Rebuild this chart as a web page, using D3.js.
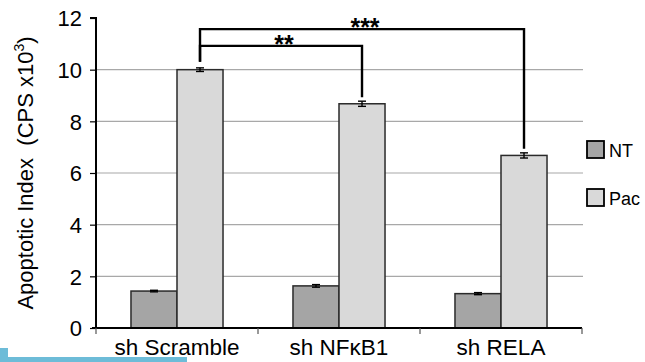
<!DOCTYPE html>
<html>
<head>
<meta charset="utf-8">
<script src="https://cdn.jsdelivr.net/npm/d3@7"></script>
<style>
  html, body { margin: 0; padding: 0; background: #fff; }
  svg { display: block; font-family: "Liberation Sans", Arial, sans-serif; }
</style>
</head>
<body>
<svg id="chart" width="645" height="362"></svg>
<script>
// Apoptotic index per shRNA construct, untreated (NT) vs paclitaxel (Pac)
const categories = ["sh Scramble", "sh NF\u03BAB1", "sh RELA"];
const seriesNames = ["NT", "Pac"];
const ntValues = [1.43, 1.63, 1.33];
const ntErrors = [0.03, 0.05, 0.04];
const pacValues = [10.0, 8.68, 6.68];
const pacErrors = [0.07, 0.1, 0.1];
const yTicks = [0, 2, 4, 6, 8, 10, 12];
const gridTicks = [2, 4, 6, 8, 10];
// significance brackets between Pac bars of two categories
const brackets = [
  { from: 0, to: 1, label: "**", level: 10.92 },
  { from: 0, to: 2, label: "***", level: 11.57 }
];

const svg = d3.select("#chart");
const margin = { left: 96, right: 63, top: 18, bottom: 34 };
const W = 645, H = 362;
const FONT = "Liberation Sans, Arial, sans-serif";

const x = d3.scaleBand().domain(categories).range([margin.left, W - margin.right]).paddingInner(0).paddingOuter(0);
const xs = d3.scaleBand().domain(seriesNames).range([0, x.bandwidth()]).paddingInner(0).paddingOuter(0.76);
const y = d3.scaleLinear().domain([0, 12]).range([H - margin.bottom, margin.top]);

const colors = { NT: "#a5a5a5", Pac: "#d9d9d9" };

// corner accent strip
svg.append("rect").attr("x", 0).attr("y", 357).attr("width", 187).attr("height", 5).attr("fill", "#6dbcd8");
svg.append("rect").attr("x", 0).attr("y", 348).attr("width", 8).attr("height", 14).attr("fill", "#6dbcd8");

// gridlines
svg.append("g").selectAll("line").data(gridTicks).join("line")
  .attr("x1", margin.left).attr("x2", W - margin.right + 1)
  .attr("y1", d => y(d)).attr("y2", d => y(d))
  .attr("stroke", "#a8a8a8").attr("stroke-width", 1.2);

// bars
const rows = categories.map((c, i) => [
  { cat: c, s: "NT", v: ntValues[i], e: ntErrors[i] },
  { cat: c, s: "Pac", v: pacValues[i], e: pacErrors[i] }
]).flat();

svg.append("g").selectAll("rect").data(rows).join("rect")
  .attr("x", d => x(d.cat) + xs(d.s))
  .attr("y", d => y(d.v))
  .attr("width", xs.bandwidth())
  .attr("height", d => y(0) - y(d.v))
  .attr("fill", d => colors[d.s])
  .attr("stroke", "#2a2a2a").attr("stroke-width", 1.5);

// error bars
const eb = svg.append("g").attr("stroke", "#000").attr("stroke-width", 1.4);
rows.forEach(d => {
  const cx = x(d.cat) + xs(d.s) + xs.bandwidth() / 2;
  eb.append("line").attr("x1", cx).attr("x2", cx).attr("y1", y(d.v + d.e)).attr("y2", y(d.v - d.e));
  eb.append("line").attr("x1", cx - 4).attr("x2", cx + 4).attr("y1", y(d.v + d.e)).attr("y2", y(d.v + d.e));
  eb.append("line").attr("x1", cx - 4).attr("x2", cx + 4).attr("y1", y(d.v - d.e)).attr("y2", y(d.v - d.e));
});

// y axis
const yAxis = d3.axisLeft(y).tickValues(yTicks).tickSize(6).tickPadding(8).tickFormat(d3.format("d"));
const gy = svg.append("g").attr("transform", `translate(${margin.left},0)`).call(yAxis);
gy.attr("font-size", 22).attr("font-family", FONT);
gy.select(".domain").attr("stroke", "#000").attr("stroke-width", 2).attr("d", `M-6,${y(12)}H0V${y(0) + 1}`);
gy.selectAll(".tick line").attr("stroke", "#000").attr("stroke-width", 1.2);
gy.selectAll(".tick text").attr("fill", "#000").attr("dy", "0.36em");

// x axis
const gx = svg.append("g").attr("transform", `translate(0,${y(0)})`);
gx.append("line").attr("x1", margin.left - 4).attr("x2", W - margin.right).attr("y1", 0).attr("y2", 0)
  .attr("stroke", "#000").attr("stroke-width", 2);
const boundaries = [margin.left, ...categories.slice(1).map(c => x(c)), W - margin.right];
gx.selectAll("line.tk").data(boundaries).join("line").attr("class", "tk")
  .attr("x1", d => d).attr("x2", d => d).attr("y1", 0).attr("y2", 6)
  .attr("stroke", "#555").attr("stroke-width", 1.2);
gx.selectAll("text").data(categories).join("text")
  .attr("x", d => x(d) + x.bandwidth() / 2).attr("y", 27)
  .attr("text-anchor", "middle").attr("font-size", 22.5).attr("fill", "#000")
  .text(d => d);

// y axis title
const yt = svg.append("text")
  .attr("transform", `translate(33,${(y(0) + y(12)) / 2}) rotate(-90)`)
  .attr("text-anchor", "middle").attr("font-size", 22).attr("fill", "#000");
yt.append("tspan").text("Apoptotic Index\u00A0 (CPS x10");
yt.append("tspan").attr("dy", -9).attr("font-size", 14).text("3");
yt.append("tspan").attr("dy", 9).text(")");

// significance brackets
const pacCenter = i => x(categories[i]) + xs("Pac") + xs.bandwidth() / 2;
const bg = svg.append("g");
brackets.forEach(b => {
  const x0 = pacCenter(b.from), x1 = pacCenter(b.to);
  const yl = y(b.level);
  const y0 = y(pacValues[b.from] + pacErrors[b.from]) - 6;
  const y1 = y(pacValues[b.to] + pacErrors[b.to]) - 4;
  bg.append("path").attr("d", `M${x0},${y0}V${yl}H${x1}V${y1}`)
    .attr("fill", "none").attr("stroke", "#000").attr("stroke-width", 2.4);
});
bg.append("text").attr("x", 284).attr("y", 53).attr("text-anchor", "middle").attr("font-size", 25)
  .attr("font-weight", "bold").attr("fill", "#000").text(brackets[0].label);
bg.append("text").attr("x", 365).attr("y", 36).attr("text-anchor", "middle").attr("font-size", 25)
  .attr("font-weight", "bold").attr("fill", "#000").text(brackets[1].label);

// legend
const lg = svg.append("g");
seriesNames.forEach((s, i) => {
  const ly = 141 + i * 48;
  lg.append("rect").attr("x", 587).attr("y", ly).attr("width", 17).attr("height", 17)
    .attr("fill", colors[s]).attr("stroke", "#000").attr("stroke-width", 1.8);
  lg.append("text").attr("x", 609).attr("y", ly + 16).attr("font-size", 18).attr("fill", "#000").text(s);
});
</script>
</body>
</html>
